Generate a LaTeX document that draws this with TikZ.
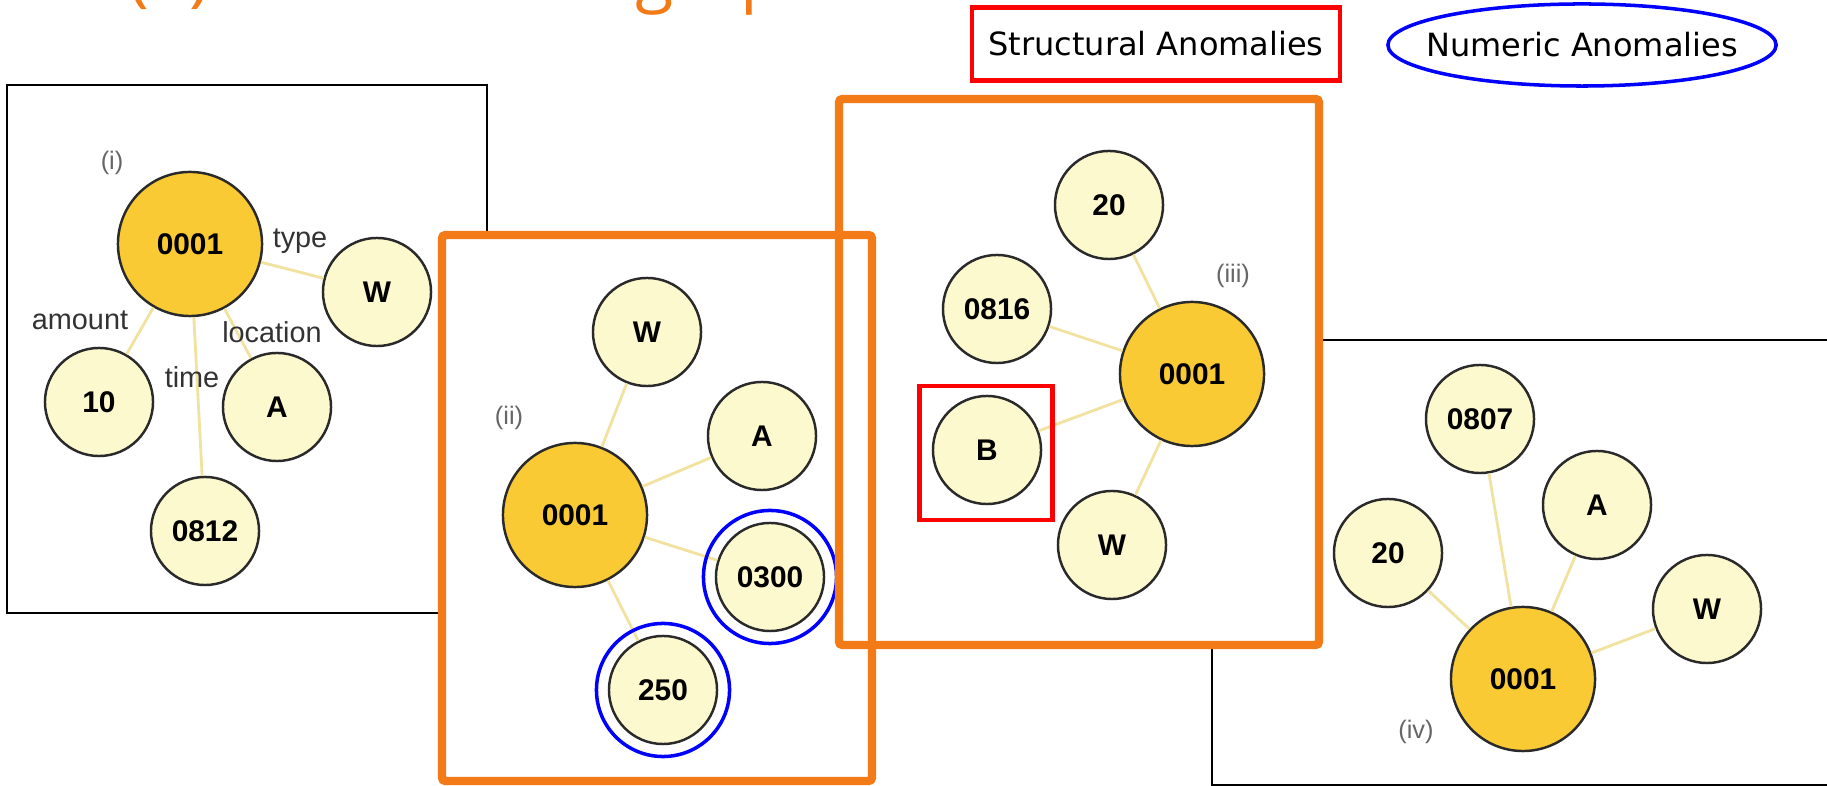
\documentclass[tikz,border=0pt]{standalone}
\usepackage{fontspec}
\setsansfont{Liberation Sans}
\newfontfamily\titlefont{Open Sans}
\newfontfamily\legendfont{DejaVu Sans}
\usepackage{tikz}
\usetikzlibrary{positioning}
\definecolor{colorNaranja}{HTML}{F27B17}
\definecolor{colorOro}{HTML}{F9CA33}
\definecolor{colorCrema}{HTML}{FDF9CF}
\definecolor{colorArista}{HTML}{F1E2A0}
\definecolor{colorBorde}{HTML}{2A2A2A}

\begin{document}
\begin{tikzpicture}[x=0.01cm, y=-0.01cm,
        hub/.style={circle, draw=colorBorde, line width=0.7pt, fill=colorOro, minimum size=1.44cm,
            inner sep=0pt, font=\sffamily\bfseries\fontsize{8.5}{10}\selectfont},
        val/.style={hub, fill=colorCrema, minimum size=1.08cm},
        link/.style={colorArista, line width=0.8pt},
        lbl/.style={inner sep=0pt, text=black!80, font=\sffamily\fontsize{8.2}{10}\selectfont},
        idx/.style={inner sep=0pt, text=black!60, font=\sffamily\fontsize{7.2}{9}\selectfont},
        panel/.style={draw=black, line width=0.5pt, fill=white},
        hl/.style={draw=colorNaranja, line width=2.4pt, rounded corners=1pt},
        numring/.style={draw=blue, line width=1pt},
        structbox/.style={draw=red, line width=1.3pt},
        leg/.style={inner sep=0pt, font=\legendfont\fontsize{9.1}{11}\selectfont}
    ]
        \useasboundingbox (0,0) rectangle (1827,786);
        \fill[white] (0,0) rectangle (1827,786);
        \node[anchor=base west, inner sep=0pt, text=colorNaranja, font=\titlefont\fontsize{19.9}{24}\selectfont]
            (title) at (128,-1) {(2) Unusual subgraphs};
        \node[structbox, minimum width=3.68cm, minimum height=0.73cm, leg] (legS) at (1156,44) {Structural Anomalies};
        \node[leg] (legN) at (1582,45) {Numeric Anomalies};
        \draw[numring] (legN) ellipse[x radius=1.94cm, y radius=0.41cm];

        % (i)
        \draw[panel] (7,85) rectangle (487,613);
        \node[hub] (a0) at (190,244) {0001};
        \node[val] (aW) at (377,292) {W};
        \node[val] (a10) at (99,402) {10};
        \node[val] (aA) at (277,407) {A};
        \node[val] (a0812) at (205,531) {0812};
        \draw[link] (a0)--(aW); \draw[link] (a0)--(a10); \draw[link] (a0)--(aA); \draw[link] (a0)--(a0812);
        \node[lbl] (tType) at (300,241) {type};
        \node[lbl] (tAmount) at (80,320) {amount};
        \node[lbl] (tLoc) at (272,332) {location};
        \node[lbl] (tTime) at (192,377) {time};
        \node[idx] (nI) at (112,163) {(i)};

        % (ii)
        \fill[white] (442,235) rectangle (872,781);
        \node[hub] (b0) at (575,515) {0001};
        \node[val] (bW) at (647,332) {W};
        \node[val] (bA) at (762,436) {A};
        \node[val] (b0300) at (770,577) {0300};
        \node[val] (b250) at (663,690) {250};
        \draw[link] (b0)--(bW); \draw[link] (b0)--(bA); \draw[link] (b0)--(b0300); \draw[link] (b0)--(b250);
        \draw[numring] (b0300) circle[radius=0.665cm];
        \draw[numring] (b250) circle[radius=0.665cm];
        \node[idx] (nII) at (509,418) {(ii)};

        % (iv)
        \draw[panel] (1212,340) rectangle (1860,785);
        \node[hub] (d0) at (1523,679) {0001};
        \node[val] (d0807) at (1480,419) {0807};
        \node[val] (dA) at (1597,505) {A};
        \node[val] (d20) at (1388,553) {20};
        \node[val] (dW) at (1707,609) {W};
        \draw[link] (d0)--(d0807); \draw[link] (d0)--(dA); \draw[link] (d0)--(d20); \draw[link] (d0)--(dW);
        \node[idx] (nIV) at (1416,732) {(iv)};

        % (iii)
        \fill[white] (839,99) rectangle (1319,645);
        \node[hub] (c0) at (1192,374) {0001};
        \node[val] (c20) at (1109,205) {20};
        \node[val] (c0816) at (997,309) {0816};
        \node[val] (cB) at (987,450) {B};
        \node[val] (cW) at (1112,545) {W};
        \draw[link] (c0)--(c20); \draw[link] (c0)--(c0816); \draw[link] (c0)--(cB); \draw[link] (c0)--(cW);
        \node[structbox, minimum width=1.33cm, minimum height=1.34cm] (boxB) at (986,453) {};
        \node[idx] (nIII) at (1233,276) {(iii)};

        \draw[hl] (442,235) rectangle (872,781);
        \draw[hl] (839,99) rectangle (1319,645);
    \end{tikzpicture}
\end{document}
